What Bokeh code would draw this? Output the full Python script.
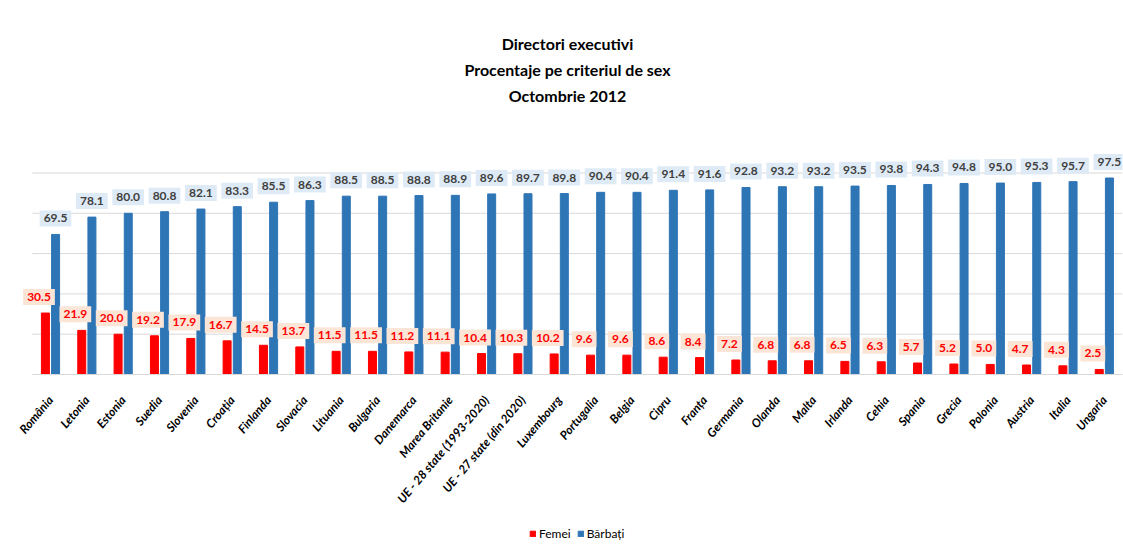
from bokeh.plotting import figure
from bokeh.layouts import column
from bokeh.models import (ColumnDataSource, Range1d, FixedTicker, LabelSet,
                          Legend, LegendItem, Title)
from bokeh.core.properties import value
from bokeh.transform import dodge
from bokeh.embed import file_html
from bokeh.resources import INLINE

categories = ["România", "Letonia", "Estonia", "Suedia", "Slovenia", "Croația", "Finlanda",
              "Slovacia", "Lituania", "Bulgaria", "Danemarca", "Marea Britanie",
              "UE - 28 state (1993-2020)", "UE - 27 state (din 2020)", "Luxembourg",
              "Portugalia", "Belgia", "Cipru", "Franța", "Germania", "Olanda", "Malta",
              "Irlanda", "Cehia", "Spania", "Grecia", "Polonia", "Austria", "Italia", "Ungaria"]
femei = [30.5, 21.9, 20.0, 19.2, 17.9, 16.7, 14.5, 13.7, 11.5, 11.5, 11.2, 11.1, 10.4, 10.3,
         10.2, 9.6, 9.6, 8.6, 8.4, 7.2, 6.8, 6.8, 6.5, 6.3, 5.7, 5.2, 5.0, 4.7, 4.3, 2.5]
barbati = [69.5, 78.1, 80.0, 80.8, 82.1, 83.3, 85.5, 86.3, 88.5, 88.5, 88.8, 88.9, 89.6, 89.7,
           89.8, 90.4, 90.4, 91.4, 91.6, 92.8, 93.2, 93.2, 93.5, 93.8, 94.3, 94.8, 95.0, 95.3,
           95.7, 97.5]
grid_ticks = [0, 20, 40, 60, 80, 100]
title_lines = ["Directori executivi", "Procentaje pe criteriul de sex", "Octombrie 2012"]
series_names = ["Femei", "Bărbați"]

FONT = "Lato"
RED = "#FF0000"
BLUE = "#2E75B6"
GRID = "#D9D9D9"

n = len(categories)
pos = list(range(n))
src = ColumnDataSource(dict(
    x=pos, cat=categories, femei=femei, barbati=barbati,
    femei_txt=[f"{v:.1f}" for v in femei],
    barbati_txt=[f"{v:.1f}" for v in barbati],
))

p = figure(width=1123, height=516, x_range=Range1d(-1.0457, n - 0.5),
           y_range=Range1d(0, 132.5), output_backend="svg", toolbar_location=None,
           min_border_left=12, min_border_right=1, min_border_top=107, min_border_bottom=142)
p.outline_line_color = None
p.background_fill_color = "white"
p.border_fill_color = "white"
p.grid.visible = False

# horizontal gridlines spanning the category band
gsrc = ColumnDataSource(dict(y=grid_ticks, x0=[-0.5] * len(grid_ticks),
                             x1=[n - 0.5] * len(grid_ticks)))
p.segment(x0="x0", y0="y", x1="x1", y1="y", source=gsrc, line_color=GRID, line_width=1)

r_f = p.vbar(x=dodge("x", -0.14), top="femei", width=0.22, source=src,
             fill_color=RED, line_color=RED)
r_b = p.vbar(x=dodge("x", 0.14), top="barbati", width=0.22, source=src,
             fill_color=BLUE, line_color=BLUE)

p.yaxis.visible = False
ax = p.xaxis[0]
ax.ticker = FixedTicker(ticks=pos)
ax.major_label_overrides = {i: c for i, c in zip(pos, categories)}
ax.bounds = (-0.5, n - 0.5)
ax.axis_line_color = GRID
ax.major_tick_line_color = None
ax.minor_tick_line_color = None
ax.major_label_orientation = 0.873
ax.major_label_text_font = FONT
ax.major_label_text_font_style = "bold italic"
ax.major_label_text_font_size = "12px"
ax.major_label_text_color = "black"
ax.major_label_standoff = 17

lf = LabelSet(x="x", y="femei", text="femei_txt", source=src, x_offset=-11.5, y_offset=16,
              text_align="center", text_baseline="middle", text_font=value(FONT),
              text_font_style="bold", text_font_size="12px", text_color=RED,
              background_fill_color="#FBE5D6", border_line_color="#FBE5D6",
              border_line_width=8, border_line_join="miter")
lb = LabelSet(x="x", y="barbati", text="barbati_txt", source=src, x_offset=5, y_offset=16,
              text_align="center", text_baseline="middle", text_font=value(FONT),
              text_font_style="bold", text_font_size="12px", text_color="#404040",
              background_fill_color="#DEEBF7", border_line_color="#DEEBF7",
              border_line_width=8, border_line_join="miter")
p.add_layout(lf)
p.add_layout(lb)

p.title.text = title_lines[0]
p.title.align = "center"
p.title.text_font = FONT
p.title.text_font_size = "16px"
p.title.text_font_style = "bold"
p.title.text_color = "black"
p.title.standoff = 6
for t, so in [(title_lines[2], 6), (title_lines[1], 4)]:
    p.add_layout(Title(text=t, align="center", text_font=FONT, text_font_size="16px",
                       text_font_style="bold", text_color="black", standoff=so), "above")

# legend strip below the chart (legend renderers sit outside the visible range)
p2 = figure(width=1123, height=37, x_range=Range1d(0, 1), y_range=Range1d(-2, -1),
            output_backend="svg", toolbar_location=None, x_axis_type=None, y_axis_type=None,
            min_border=0)
p2.outline_line_color = None
p2.grid.visible = False
lsrc = ColumnDataSource(dict(x=[-5], top=[-5]))
lr_f = p2.vbar(x="x", top="top", bottom=-6, width=0.1, source=lsrc,
               fill_color=RED, line_color=RED)
lr_b = p2.vbar(x="x", top="top", bottom=-6, width=0.1, source=lsrc,
               fill_color=BLUE, line_color=BLUE)
legend = Legend(items=[LegendItem(label=series_names[0], renderers=[lr_f]),
                       LegendItem(label=series_names[1], renderers=[lr_b])],
                orientation="horizontal", location=(517, 12), border_line_color=None,
                background_fill_alpha=0,
                glyph_width=7, glyph_height=7, label_standoff=3, spacing=6,
                label_text_font=FONT, label_text_font_size="12px", label_text_color="black",
                padding=2, margin=0)
p2.add_layout(legend, "center")

layout = column(p, p2, spacing=0)
open("out.html", "w").write(file_html(layout, INLINE))
